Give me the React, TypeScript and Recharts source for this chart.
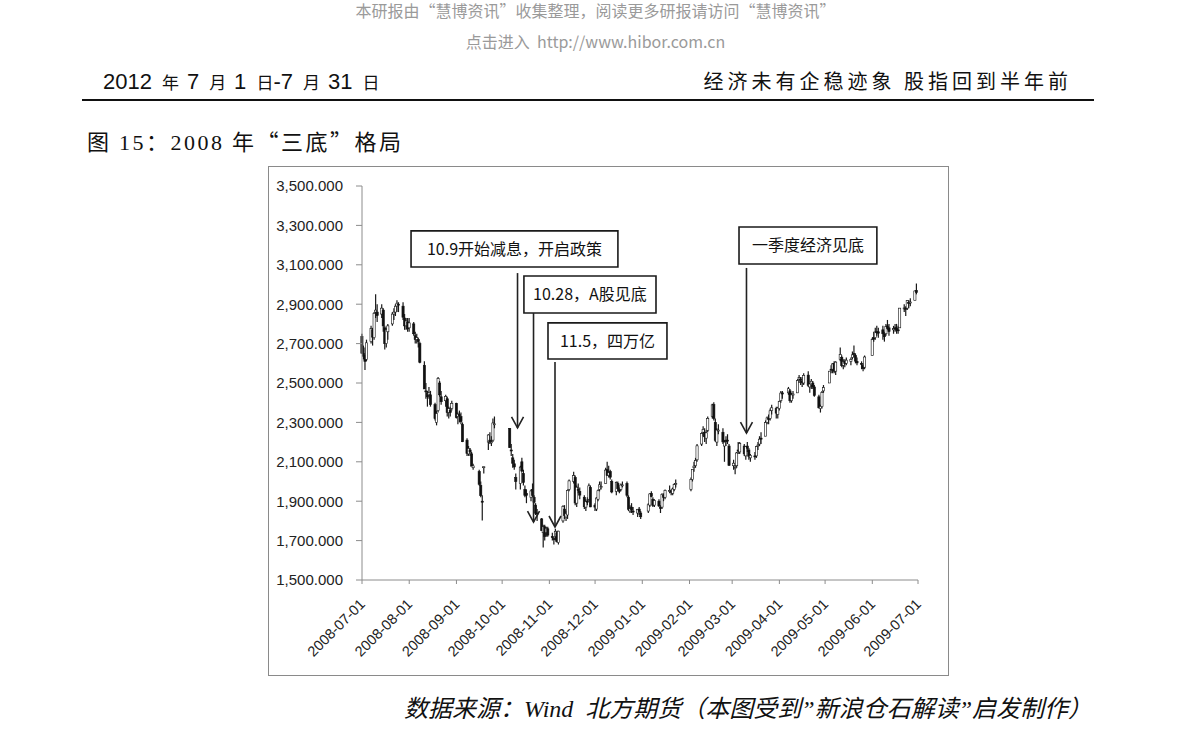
import { ComposedChart, Bar, XAxis, YAxis, ReferenceArea, ReferenceLine } from 'recharts'

// 上证综指日线 2008-07 ~ 2009-06（按图读数估计）
const tradeDates = [
  '2008-07-01', '2008-07-02', '2008-07-03', '2008-07-04', '2008-07-07', '2008-07-08', '2008-07-09', '2008-07-10', '2008-07-11', '2008-07-14', '2008-07-15', '2008-07-16', '2008-07-17', '2008-07-18', '2008-07-21', '2008-07-22', '2008-07-23', '2008-07-24', '2008-07-25', '2008-07-28', '2008-07-29', '2008-07-30', '2008-07-31',
  '2008-08-01', '2008-08-04', '2008-08-05', '2008-08-06', '2008-08-07', '2008-08-08', '2008-08-11', '2008-08-12', '2008-08-13', '2008-08-14', '2008-08-15', '2008-08-18', '2008-08-19', '2008-08-20', '2008-08-21', '2008-08-22', '2008-08-25', '2008-08-26', '2008-08-27', '2008-08-28', '2008-08-29',
  '2008-09-01', '2008-09-02', '2008-09-03', '2008-09-04', '2008-09-05', '2008-09-08', '2008-09-09', '2008-09-10', '2008-09-11', '2008-09-12', '2008-09-16', '2008-09-17', '2008-09-18', '2008-09-19', '2008-09-22', '2008-09-23', '2008-09-24', '2008-09-25', '2008-09-26',
  '2008-10-06', '2008-10-07', '2008-10-08', '2008-10-09', '2008-10-10', '2008-10-13', '2008-10-14', '2008-10-15', '2008-10-16', '2008-10-17', '2008-10-20', '2008-10-21', '2008-10-22', '2008-10-23', '2008-10-24', '2008-10-27', '2008-10-28', '2008-10-29', '2008-10-30', '2008-10-31',
  '2008-11-03', '2008-11-04', '2008-11-05', '2008-11-06', '2008-11-07', '2008-11-10', '2008-11-11', '2008-11-12', '2008-11-13', '2008-11-14', '2008-11-17', '2008-11-18', '2008-11-19', '2008-11-20', '2008-11-21', '2008-11-24', '2008-11-25', '2008-11-26', '2008-11-27', '2008-11-28',
  '2008-12-01', '2008-12-02', '2008-12-03', '2008-12-04', '2008-12-05', '2008-12-08', '2008-12-09', '2008-12-10', '2008-12-11', '2008-12-12', '2008-12-15', '2008-12-16', '2008-12-17', '2008-12-18', '2008-12-19', '2008-12-22', '2008-12-23', '2008-12-24', '2008-12-25', '2008-12-26', '2008-12-29', '2008-12-30', '2008-12-31',
  '2009-01-05', '2009-01-06', '2009-01-07', '2009-01-08', '2009-01-09', '2009-01-12', '2009-01-13', '2009-01-14', '2009-01-15', '2009-01-16', '2009-01-19', '2009-01-20', '2009-01-21', '2009-01-22', '2009-01-23',
  '2009-02-02', '2009-02-03', '2009-02-04', '2009-02-05', '2009-02-06', '2009-02-09', '2009-02-10', '2009-02-11', '2009-02-12', '2009-02-13', '2009-02-16', '2009-02-17', '2009-02-18', '2009-02-19', '2009-02-20', '2009-02-23', '2009-02-24', '2009-02-25', '2009-02-26', '2009-02-27',
  '2009-03-02', '2009-03-03', '2009-03-04', '2009-03-05', '2009-03-06', '2009-03-09', '2009-03-10', '2009-03-11', '2009-03-12', '2009-03-13', '2009-03-16', '2009-03-17', '2009-03-18', '2009-03-19', '2009-03-20', '2009-03-23', '2009-03-24', '2009-03-25', '2009-03-26', '2009-03-27', '2009-03-30', '2009-03-31',
  '2009-04-01', '2009-04-02', '2009-04-03', '2009-04-07', '2009-04-08', '2009-04-09', '2009-04-10', '2009-04-13', '2009-04-14', '2009-04-15', '2009-04-16', '2009-04-17', '2009-04-20', '2009-04-21', '2009-04-22', '2009-04-23', '2009-04-24', '2009-04-27', '2009-04-28', '2009-04-29', '2009-04-30',
  '2009-05-04', '2009-05-05', '2009-05-06', '2009-05-07', '2009-05-08', '2009-05-11', '2009-05-12', '2009-05-13', '2009-05-14', '2009-05-15', '2009-05-18', '2009-05-19', '2009-05-20', '2009-05-21', '2009-05-22', '2009-05-25', '2009-05-26', '2009-05-27',
  '2009-06-01', '2009-06-02', '2009-06-03', '2009-06-04', '2009-06-05', '2009-06-08', '2009-06-09', '2009-06-10', '2009-06-11', '2009-06-12', '2009-06-15', '2009-06-16', '2009-06-17', '2009-06-18', '2009-06-19', '2009-06-22', '2009-06-23', '2009-06-24', '2009-06-25', '2009-06-26', '2009-06-29', '2009-06-30',
]

const openPx = [
  2737, 2650, 2640, 2620, 2710, 2770, 2730, 2860, 2860, 2850, 2870, 2780, 2700, 2760, 2800, 2850, 2860, 2890, 2900, 2890, 2830, 2790, 2810,
  2780, 2800, 2740, 2720, 2720, 2700, 2590, 2460, 2450, 2440, 2440, 2390, 2300, 2360, 2500, 2430, 2410, 2420, 2350, 2360, 2370,
  2397, 2330, 2340, 2330, 2290, 2210, 2140, 2160, 2140, 2070, 2050, 1980, 1900, 2075, 2200, 2210, 2200, 2210, 2290,
  2270, 2160, 2120, 2090, 2020, 1990, 2100, 2040, 1960, 1940, 1920, 1960, 1920, 1880, 1840, 1810, 1740, 1770, 1740, 1760,
  1720, 1710, 1720, 1740, 1690, 1800, 1860, 1820, 1830, 1960, 2000, 2020, 1890, 1960, 1950, 1920, 1870, 1900, 1910, 1970,
  1880, 1860, 1910, 1960, 1970, 1990, 2060, 2030, 2050, 2000, 1950, 1990, 1960, 1960, 1980, 1990, 1920, 1850, 1870, 1850, 1840, 1860, 1840,
  1850, 1880, 1940, 1910, 1880, 1900, 1870, 1870, 1930, 1920, 1950, 1950, 1940, 1960, 1990,
  1960, 2010, 2070, 2080, 2110, 2190, 2250, 2250, 2220, 2260, 2330, 2390, 2300, 2200, 2260, 2250, 2180, 2210, 2210, 2180,
  2080, 2070, 2080, 2160, 2150, 2180, 2130, 2180, 2160, 2120, 2130, 2130, 2180, 2190, 2220, 2230, 2300, 2320, 2320, 2360, 2370, 2340,
  2370, 2410, 2450, 2450, 2460, 2410, 2440, 2450, 2520, 2520, 2510, 2500, 2540, 2480, 2490, 2500, 2480, 2430, 2370, 2380, 2460,
  2500, 2570, 2570, 2600, 2560, 2620, 2630, 2590, 2610, 2600, 2610, 2630, 2650, 2640, 2610, 2600, 2590, 2580,
  2640, 2730, 2730, 2760, 2760, 2770, 2750, 2750, 2790, 2780, 2770, 2780, 2780, 2770, 2780, 2880, 2880, 2880, 2910, 2910, 2920, 2970,
]

const highPx = [
  2750, 2690, 2680, 2720, 2790, 2780, 2860, 2950, 2900, 2900, 2880, 2790, 2780, 2800, 2860, 2880, 2900, 2920, 2910, 2910, 2850, 2830, 2830,
  2830, 2810, 2760, 2750, 2730, 2710, 2610, 2500, 2460, 2480, 2460, 2400, 2360, 2530, 2510, 2460, 2440, 2430, 2380, 2380, 2410,
  2400, 2350, 2360, 2350, 2300, 2220, 2180, 2170, 2150, 2090, 2060, 2000, 1930, 2075, 2240, 2250, 2230, 2320, 2330,
  2270, 2190, 2140, 2110, 2040, 2080, 2120, 2060, 1980, 1960, 1960, 1990, 1930, 1890, 1860, 1815, 1780, 1780, 1770, 1770,
  1740, 1720, 1760, 1750, 1750, 1880, 1880, 1850, 1960, 2010, 2050, 2030, 1980, 1990, 1970, 1930, 1910, 1920, 1990, 1980,
  1890, 1920, 1960, 2000, 2000, 2070, 2100, 2080, 2060, 2010, 2000, 2000, 1970, 1990, 2000, 2000, 1930, 1880, 1890, 1870, 1860, 1870, 1850,
  1890, 1940, 1950, 1920, 1910, 1910, 1880, 1940, 1940, 1960, 1980, 1960, 1970, 1990, 2010,
  2020, 2060, 2100, 2120, 2190, 2250, 2280, 2270, 2260, 2330, 2395, 2402, 2320, 2270, 2290, 2270, 2210, 2230, 2240, 2190,
  2110, 2080, 2150, 2200, 2200, 2190, 2180, 2200, 2170, 2140, 2150, 2180, 2200, 2230, 2250, 2310, 2330, 2340, 2370, 2390, 2380, 2380,
  2410, 2460, 2460, 2480, 2470, 2450, 2460, 2520, 2540, 2530, 2530, 2550, 2560, 2500, 2520, 2510, 2490, 2440, 2390, 2460, 2490,
  2560, 2590, 2600, 2610, 2610, 2680, 2640, 2620, 2620, 2630, 2630, 2660, 2690, 2650, 2630, 2610, 2600, 2640,
  2730, 2760, 2780, 2790, 2780, 2790, 2760, 2800, 2820, 2800, 2790, 2800, 2800, 2790, 2880, 2900, 2890, 2920, 2920, 2930, 2970, 3005,
]

const lowPx = [
  2650, 2620, 2566, 2610, 2700, 2690, 2720, 2830, 2810, 2830, 2760, 2670, 2680, 2720, 2790, 2820, 2840, 2860, 2860, 2820, 2770, 2770, 2760,
  2760, 2740, 2700, 2700, 2680, 2600, 2470, 2420, 2380, 2420, 2380, 2310, 2285, 2350, 2430, 2390, 2380, 2330, 2320, 2330, 2360,
  2320, 2290, 2300, 2290, 2200, 2130, 2130, 2130, 2080, 2060, 1980, 1920, 1802, 2040, 2160, 2190, 2180, 2200, 2270,
  2170, 2130, 2070, 2060, 1960, 1960, 2050, 1980, 1920, 1890, 1900, 1920, 1890, 1830, 1800, 1750, 1665, 1700, 1720, 1720,
  1700, 1680, 1700, 1690, 1680, 1790, 1810, 1800, 1810, 1950, 1990, 1880, 1870, 1940, 1910, 1860, 1850, 1880, 1900, 1870,
  1850, 1850, 1900, 1950, 1960, 1990, 2030, 2020, 2010, 1940, 1930, 1950, 1940, 1950, 1970, 1920, 1850, 1840, 1840, 1830, 1820, 1830, 1810,
  1840, 1870, 1920, 1870, 1870, 1870, 1840, 1860, 1900, 1910, 1940, 1930, 1930, 1950, 1970,
  1950, 2000, 2050, 2070, 2100, 2180, 2230, 2200, 2190, 2250, 2320, 2310, 2200, 2180, 2240, 2190, 2100, 2180, 2190, 2080,
  2060, 2037, 2070, 2140, 2140, 2130, 2110, 2150, 2110, 2100, 2110, 2120, 2160, 2180, 2190, 2230, 2290, 2290, 2310, 2340, 2320, 2320,
  2360, 2400, 2420, 2440, 2400, 2400, 2420, 2450, 2500, 2490, 2480, 2490, 2480, 2450, 2470, 2470, 2430, 2370, 2350, 2370, 2450,
  2500, 2550, 2550, 2550, 2540, 2610, 2580, 2570, 2580, 2590, 2590, 2620, 2630, 2600, 2590, 2570, 2560, 2570,
  2640, 2710, 2720, 2740, 2730, 2720, 2710, 2740, 2770, 2740, 2750, 2760, 2750, 2750, 2780, 2860, 2840, 2870, 2880, 2890, 2920, 2950,
]

const closePx = [
  2651, 2636, 2610, 2704, 2776, 2733, 2854, 2870, 2842, 2880, 2790, 2700, 2770, 2790, 2850, 2860, 2890, 2905, 2896, 2834, 2790, 2815, 2775,
  2805, 2750, 2720, 2730, 2710, 2605, 2470, 2457, 2430, 2450, 2390, 2319, 2345, 2523, 2440, 2405, 2432, 2350, 2370, 2350, 2397,
  2325, 2342, 2333, 2304, 2202, 2143, 2168, 2150, 2078, 2079, 1986, 1929, 1895, 2075, 2236, 2201, 2201, 2297, 2293,
  2173, 2157, 2093, 2074, 2000, 2073, 2053, 1995, 1930, 1930, 1952, 1930, 1895, 1839, 1838, 1751, 1771, 1721, 1763, 1728,
  1719, 1706, 1747, 1694, 1748, 1874, 1827, 1838, 1955, 2003, 2030, 1891, 1971, 1958, 1931, 1872, 1898, 1895, 1978, 1871,
  1870, 1916, 1953, 1983, 1974, 2058, 2031, 2045, 2022, 1947, 1994, 1963, 1950, 1982, 1983, 1930, 1859, 1862, 1855, 1849, 1859, 1848, 1821,
  1882, 1937, 1924, 1878, 1904, 1876, 1863, 1935, 1920, 1955, 1954, 1946, 1962, 1985, 1990,
  2011, 2060, 2078, 2107, 2181, 2244, 2265, 2227, 2247, 2320, 2389, 2320, 2209, 2261, 2261, 2201, 2200, 2203, 2206, 2082,
  2093, 2071, 2145, 2154, 2193, 2140, 2177, 2169, 2128, 2133, 2128, 2178, 2185, 2215, 2218, 2300, 2323, 2318, 2359, 2374, 2347, 2373,
  2407, 2449, 2444, 2471, 2410, 2440, 2444, 2513, 2527, 2516, 2501, 2539, 2488, 2495, 2509, 2480, 2437, 2374, 2382, 2452, 2477,
  2560, 2567, 2597, 2560, 2606, 2645, 2588, 2610, 2598, 2616, 2620, 2643, 2647, 2611, 2602, 2594, 2573, 2632,
  2721, 2723, 2759, 2757, 2753, 2750, 2735, 2786, 2777, 2761, 2777, 2776, 2768, 2769, 2880, 2881, 2876, 2918, 2904, 2911, 2967, 2959,
]

const monthLabels = [
  '2008-07-01', '2008-08-01', '2008-09-01', '2008-10-01', '2008-11-01', '2008-12-01', '2009-01-01',
  '2009-02-01', '2009-03-01', '2009-04-01', '2009-05-01', '2009-06-01', '2009-07-01',
]

const priceTicks = [1500, 1700, 1900, 2100, 2300, 2500, 2700, 2900, 3100, 3300, 3500]

// 注释框（x 为自 2008-07-01 起的天数，y 为指数点位）
const noteBoxes = [
  { text: '10.9开始减息，开启政策', x1: 32.2, x2: 168, y1: 3089, y2: 3272 },
  { text: '10.28，A股见底', x1: 106.3, x2: 193, y1: 2855, y2: 3043 },
  { text: '11.5，四万亿', x1: 122.1, x2: 200.2, y1: 2622, y2: 2805 },
  { text: '一季度经济见底', x1: 247.5, x2: 338, y1: 3104, y2: 3292 },
]

const noteArrows = [
  { x: 102.1, from: 3058, to: 2272 },
  { x: 112.6, from: 2855, to: 1794 },
  { x: 126.7, from: 2607, to: 1769 },
  { x: 252.4, from: 3084, to: 2246 },
]

const DAY = 86400000
const start = Date.parse(monthLabels[0])
const toDay = (d: string) => Math.round((Date.parse(d) - start) / DAY)

const data = tradeDates.map((d, i) => ({
  day: toDay(d),
  open: openPx[i],
  high: highPx[i],
  low: lowPx[i],
  close: closePx[i],
  range: [lowPx[i], highPx[i]],
}))

const monthTicks = monthLabels.map(toDay)
const labelOf = (day: number) => monthLabels[monthTicks.indexOf(day)] ?? ''

const fmtPrice = (v: number) =>
  v.toLocaleString('en-US', { minimumFractionDigits: 3, maximumFractionDigits: 3 })

const cjk = "'Noto Sans CJK SC', sans-serif"
const axisFont = "'Liberation Sans', Arial, sans-serif"
const serifFont = "'Liberation Serif', serif"

const Candle = (props: any) => {
  const { x, y, width, height, payload } = props
  if (!payload) return null
  const top = Math.min(y, y + height)
  const span = Math.abs(height)
  const { open, high, low, close } = payload
  const py = (v: number) => top + ((high - v) / (high - low || 1)) * span
  const cx = x + width / 2
  const bTop = py(Math.max(open, close))
  const bH = Math.max(1, py(Math.min(open, close)) - bTop)
  const up = close >= open
  return (
    <g>
      <line x1={cx} x2={cx} y1={top} y2={top + span} stroke="#1a1a1a" strokeWidth={1.2} />
      <rect x={cx - 1.1} y={bTop} width={2.2} height={bH} fill={up ? '#fff' : '#111'} stroke="#111" strokeWidth={0.6} />
    </g>
  )
}

const Arrow = (props: any) => {
  const { x1, y1, x2, y2 } = props
  return (
    <g>
      <line x1={x1} y1={y1} x2={x2} y2={y2} stroke="#222" strokeWidth={1.6} />
      <polyline points={`${x2 - 6},${y2 - 11} ${x2},${y2} ${x2 + 6},${y2 - 11}`} fill="none" stroke="#222" strokeWidth={1.6} />
    </g>
  )
}

const DateTick = (props: any) => {
  const { x, y, payload } = props
  const px = x + 4
  const py = y + 19
  return (
    <text x={px} y={py} transform={`rotate(-45 ${px} ${py})`} textAnchor="end" fontSize={14.5} fontFamily={axisFont} fill="#222">
      {labelOf(payload.value)}
    </text>
  )
}

const sm = { fontSize: 17, fontFamily: cjk }
const dg = { fontFamily: axisFont }

export default function App() {
  return (
    <div style={{ position: 'absolute', left: 0, top: 0, width: 1191, height: 744, background: '#fff', fontFamily: cjk }}>
      <div style={{ position: 'absolute', left: 0, top: 1, width: 1191, textAlign: 'center', fontSize: 16, lineHeight: '19px', color: '#9a9a9a' }}>
        本研报由“慧博资讯”收集整理，阅读更多研报请访问“慧博资讯”
      </div>
      <div style={{ position: 'absolute', left: 0, top: 32, width: 1191, textAlign: 'center', fontSize: 16, lineHeight: '18px', color: '#9a9a9a' }}>
        点击进入&nbsp; http://www.hibor.com.cn
      </div>
      <div style={{ position: 'absolute', left: 103, top: 66, fontSize: 22, lineHeight: '26px', color: '#111', whiteSpace: 'nowrap', wordSpacing: 4 }}>
        <span style={dg}>2012 </span>
        <span style={sm}>年 </span>
        <span style={dg}>7 </span>
        <span style={sm}>月 </span>
        <span style={dg}>1 </span>
        <span style={sm}>日</span>
        <span style={dg}>-7 </span>
        <span style={sm}>月 </span>
        <span style={dg}>31 </span>
        <span style={sm}>日</span>
      </div>
      <div style={{ position: 'absolute', right: 1191 - 1072, top: 68, fontSize: 20, lineHeight: '26px', letterSpacing: 4, color: '#111', whiteSpace: 'nowrap' }}>
        经济未有企稳迹象 股指回到半年前
      </div>
      <div style={{ position: 'absolute', left: 82, top: 99, width: 1012, height: 2, background: '#111' }} />
      <div style={{ position: 'absolute', left: 87, top: 126, fontSize: 22, lineHeight: '28px', letterSpacing: 2.5, color: '#111', whiteSpace: 'nowrap' }}>
        图 <span style={{ fontFamily: serifFont }}>15</span>：<span style={{ fontFamily: serifFont }}>2008</span> 年“三底”格局
      </div>

      <div style={{ position: 'absolute', left: 268, top: 166, width: 681, height: 510, border: '1px solid #8a8a8a', boxSizing: 'border-box' }}>
        <ComposedChart
          width={679}
          height={508}
          data={data}
          margin={{ top: 19, right: 30, bottom: 0, left: 0 }}
        >
          <XAxis
            type="number"
            dataKey="day"
            domain={[0, 365]}
            ticks={monthTicks}
            interval={0}
            height={95}
            tickSize={4}
            stroke="#8c8c8c"
            tick={<DateTick />}
          />
          <YAxis
            type="number"
            domain={[1500, 3500]}
            ticks={priceTicks}
            interval={0}
            width={93}
            tickSize={6}
            tickMargin={13}
            stroke="#8c8c8c"
            tickFormatter={fmtPrice}
            tick={{ fontSize: 15, fontFamily: axisFont, fill: '#222' }}
          />
          <Bar dataKey="range" barSize={2} shape={<Candle />} isAnimationActive={false} />
          {noteArrows.map((a, i) => (
            <ReferenceLine
              key={`arrow-${i}`}
              segment={[{ x: a.x, y: a.from }, { x: a.x, y: a.to }]}
              stroke="#222"
              strokeWidth={1.6}
              shape={<Arrow />}
            />
          ))}
          {noteBoxes.map((b, i) => (
            <ReferenceArea
              key={`box-${i}`}
              x1={b.x1}
              x2={b.x2}
              y1={b.y1}
              y2={b.y2}
              fill="#fff"
              fillOpacity={1}
              stroke="#1a1a1a"
              strokeWidth={1.6}
              label={{ value: b.text, position: 'center', fontSize: 16, fontFamily: cjk, fill: '#111' }}
            />
          ))}
        </ComposedChart>
      </div>

      <div style={{ position: 'absolute', right: 1191 - 1092, top: 693, fontSize: 24, lineHeight: '32px', color: '#111', fontStyle: 'italic', whiteSpace: 'nowrap', fontFamily: "'Liberation Serif', 'Noto Sans CJK SC', serif" }}>
        数据来源：Wind&nbsp; 北方期货（本图受到”新浪仓石解读”启发制作）
      </div>
    </div>
  )
}
